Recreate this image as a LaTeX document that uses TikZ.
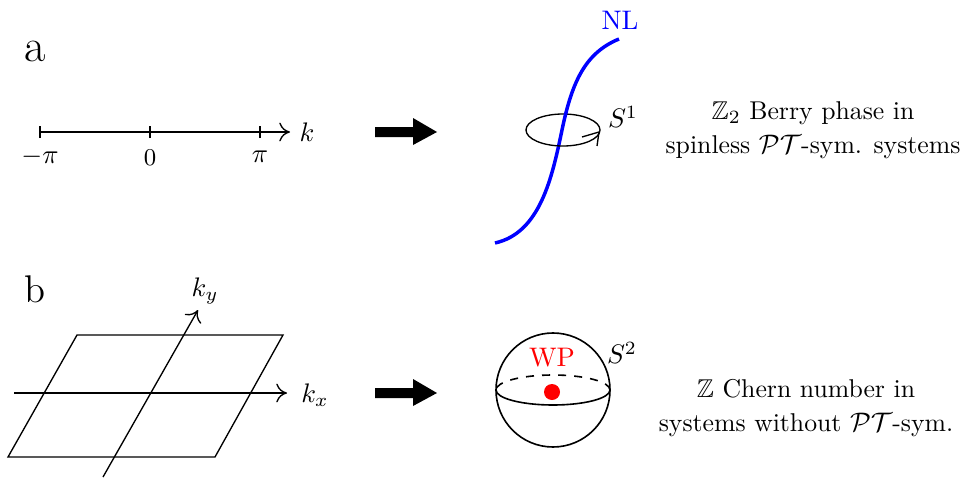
\documentclass[tikz,border=0pt]{standalone}
\usepackage{amssymb}
\usetikzlibrary{arrows.meta}
\begin{document}
\begin{tikzpicture}[x=0.373pt,y=0.373pt,
  thin line/.style={line width=0.5pt},
  axisarrow/.style={-{To[length=4pt,width=7pt]}},
  bigarrow/.style={fill=black},
  panel/.style={font=\Large},
  desc/.style={align=center,font=\fontsize{9.6}{12.8}\selectfont}]
\useasboundingbox (0,0) rectangle (965,478);
% ---------- a ----------
\node[font=\LARGE] (la) at (35,427) {a};
\coordinate (a0) at (40,346);
\coordinate (a1) at (290,346);
\draw[thin line,axisarrow] (a0) -- (a1);
\foreach \x/\n in {40/t1,150/t2,260/t3} \draw[thin line] (\x,340) -- (\x,352);
\node (mpi) at (40,321) {$-\pi$};
\node[font=\small] (zero) at (150,320) {$0$};
\node (ppi) at (260,321) {$\pi$};
\node (k) at (307,346) {$k$};
\fill[bigarrow] (375,341) -- (413,341) -- (413,333) -- (437,346) -- (413,360) -- (413,351) -- (375,351) -- cycle;
% back half of S1 loop
\coordinate (c1) at (563,348);
\draw[thin line] ([shift={(0:37 and 16)}]c1) arc[start angle=0,end angle=180,x radius=37,y radius=16];
% nodal line
\draw[blue,line width=1.3pt] (495,235) .. controls (540,245) and (552,300) .. (562,348) .. controls (572,396) and (585,425) .. (619,439);
% front half with arrow head
\draw[thin line] ([shift={(180:37 and 16)}]c1) arc[start angle=180,end angle=360,x radius=37,y radius=16];
\coordinate (tip) at (599,346);
\draw[thin line,line join=miter] (582,341) -- (tip) -- (597,332);
\node (s1) at (623,361) {$S^1$};
\node[blue] (nl) at (620,458) {NL};
\node[desc] (ta) at (813,348) {$\mathbb{Z}_2$ Berry phase in\\spinless $\mathcal{PT}$-sym. systems};
% ---------- b ----------
\node[panel] (lb) at (35,189) {b};
\draw[thin line] (8,21) -- (215,21) -- (283,143) -- (77,143) -- cycle;
\coordinate (kx0) at (14,85);
\coordinate (kx1) at (287,85);
\draw[thin line,axisarrow] (kx0) -- (kx1);
\node (kx) at (315,83) {$k_x$};
\coordinate (ky0) at (103,1);
\coordinate (ky1) at (198,168);
\draw[thin line,axisarrow] (ky0) -- (ky1);
\node (ky) at (205,187) {$k_y$};
\fill[bigarrow] (375,80) -- (413,80) -- (413,72) -- (437,85) -- (413,99) -- (413,90) -- (375,90) -- cycle;
\coordinate (c2) at (553,88);
\draw[line width=0.6pt] (c2) circle[radius=57];
\draw[line width=0.6pt,dashed] ([shift={(0:57 and 15)}]c2) arc[start angle=0,end angle=180,x radius=57,y radius=15];
\draw[line width=0.6pt] ([shift={(180:57 and 15)}]c2) arc[start angle=180,end angle=360,x radius=57,y radius=15];
\fill[red] (552,86) circle[radius=8];
\node[red] (wp) at (552,120) {WP};
\node (s2) at (622,125) {$S^2$};
\node[desc] (tb) at (806,70) {$\mathbb{Z}$ Chern number in\\systems without $\mathcal{PT}$-sym.};
\end{tikzpicture}
\end{document}
